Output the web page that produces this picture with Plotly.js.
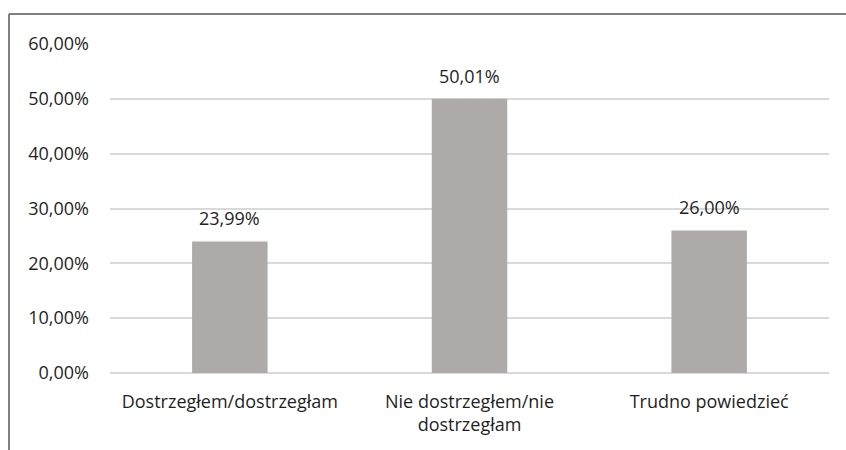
<!DOCTYPE html>
<html>
<head>
<meta charset="utf-8">
<script src="https://cdn.plot.ly/plotly-3.0.1.min.js"></script>
<style>
html,body{margin:0;padding:0;background:#fff;}
#chart{width:846px;height:450px;}
</style>
</head>
<body>
<div id="chart"></div>
<script>
const categories = ["Dostrzegłem/dostrzegłam", "Nie dostrzegłem/nie<br>dostrzegłam", "Trudno powiedzieć"];
const values = [0.2399, 0.5001, 0.26];
const valueLabels = ["23,99%", "50,01%", "26,00%"];
const tickVals = [0, 0.1, 0.2, 0.3, 0.4, 0.5, 0.6];

const font = {family: "Open Sans, Noto Sans, sans-serif", size: 18, color: "#1f1f1f"};

const annotations = categories.map((c, i) => ({
  x: c, y: values[i], xref: "x", yref: "y",
  text: valueLabels[i], showarrow: false,
  yanchor: "bottom", yshift: 9, font: font
}));

Plotly.newPlot("chart", [{
  type: "bar",
  x: categories,
  y: values,
  marker: {color: "#AEAAAA"},
  width: 0.315,
  hoverinfo: "none"
}], {
  width: 846, height: 450,
  margin: {l: 110, r: 17, t: 44, b: 77},
  paper_bgcolor: "#fff", plot_bgcolor: "#fff",
  separators: ", ",
  font: font,
  showlegend: false,
  bargap: 0.685,
  annotations: annotations,
  xaxis: {
    showgrid: false, zeroline: false, showline: false,
    ticks: "", ticklabelstandoff: 16,
    tickfont: font
  },
  yaxis: {
    range: [0, 0.6], tickvals: tickVals, tickformat: ".2%",
    showgrid: true, gridcolor: "#D9D9D9", gridwidth: 2,
    zeroline: true, zerolinecolor: "#D9D9D9", zerolinewidth: 2,
    showline: false, ticks: "", ticklabelstandoff: 20,
    tickfont: font
  },
  shapes: [
    {type: "line", xref: "paper", yref: "paper", x0: -0.1405, x1: 1.05, y0: 1.0912, y1: 1.0912,
     line: {color: "#7F7F7F", width: 2}},
    {type: "line", xref: "paper", yref: "paper", x0: -0.1405, x1: -0.1405, y0: -0.25, y1: 1.0912,
     line: {color: "#7F7F7F", width: 2}}
  ]
}, {displayModeBar: false, staticPlot: true});
</script>
</body>
</html>
